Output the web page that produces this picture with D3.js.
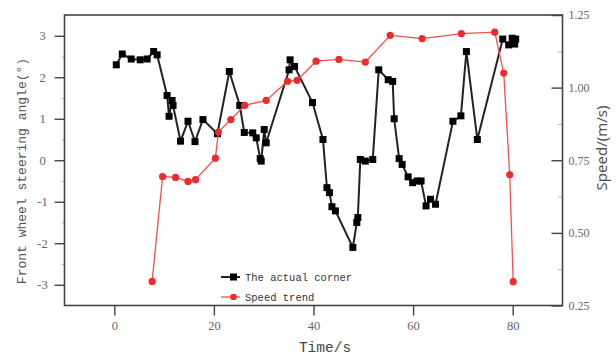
<!DOCTYPE html>
<html>
<head>
<meta charset="utf-8">
<script src="https://cdn.jsdelivr.net/npm/d3@7"></script>
<style>
  html, body { margin: 0; padding: 0; background: #fff; }
  svg { display: block; }
</style>
</head>
<body>
<svg id="chart" width="616" height="357"></svg>
<script>
// time (s) and front wheel angle (deg) of the actual corner
const cornerTime = [0.4, 1.6, 3.4, 5.2, 6.6, 7.9, 8.6, 10.6, 11.0, 11.6, 11.8, 13.3, 14.8, 16.2, 17.8, 20.7,
  23.1, 25.2, 26.1, 27.8, 28.5, 29.3, 29.5, 30.1, 30.5, 35.1, 35.3, 36.2, 39.8, 41.9, 42.7, 43.2, 43.7, 44.4,
  47.9, 48.7, 48.9, 49.4, 50.4, 51.9, 53.1, 55.0, 55.9, 56.2, 57.2, 57.8, 59.0, 59.9, 60.8, 61.6, 62.6, 63.5,
  64.5, 68.0, 69.6, 70.7, 72.9, 78.0, 79.2, 79.9, 80.6, 80.4];
const cornerAngle = [2.30, 2.56, 2.44, 2.42, 2.44, 2.62, 2.54, 1.56, 1.06, 1.44, 1.32, 0.46, 0.94, 0.45, 0.98, 0.64,
  2.14, 1.32, 0.67, 0.66, 0.54, 0.04, -0.02, 0.74, 0.42, 2.18, 2.42, 2.26, 1.39, 0.50, -0.66, -0.78, -1.12, -1.22,
  -2.10, -1.50, -1.38, 0.02, -0.02, 0.02, 2.18, 1.94, 1.90, 1.00, 0.04, -0.10, -0.40, -0.54, -0.50, -0.50, -1.10, -0.94,
  -1.06, 0.94, 1.07, 2.62, 0.50, 2.92, 2.78, 2.94, 2.92, 2.80];

// time (s) and speed (m/s) of the speed trend
const speedTime = [7.6, 9.7, 12.3, 14.8, 16.3, 20.3, 20.9, 23.4, 26.2, 30.5, 34.8, 36.7, 40.5, 45.1, 50.4,
  55.4, 61.8, 69.7, 76.4, 78.2, 79.4, 80.1];
const speedValue = [0.333, 0.694, 0.691, 0.677, 0.683, 0.757, 0.847, 0.890, 0.939, 0.956, 1.022, 1.025, 1.091,
  1.097, 1.088, 1.180, 1.169, 1.186, 1.191, 1.050, 0.700, 0.332];

const xTicks = [0, 20, 40, 60, 80];
const angleTicks = [-3, -2, -1, 0, 1, 2, 3];
const angleMinor = [-2.5, -1.5, -0.5, 0.5, 1.5, 2.5];
const speedTicks = [0.25, 0.50, 0.75, 1.00, 1.25];
const speedMinor = [0.375, 0.625, 0.875, 1.125];

const corner = cornerTime.map((t, i) => ({ t, v: cornerAngle[i] }));
const speed = speedTime.map((t, i) => ({ t, v: speedValue[i] }));

const width = 616, height = 357;
const margin = { top: 15, right: 53.5, bottom: 51.5, left: 64.5 };
const innerWidth = width - margin.left - margin.right;
const innerHeight = height - margin.top - margin.bottom;

const svg = d3.select('#chart');
const g = svg.append('g').attr('transform', `translate(${margin.left},${margin.top})`);

// Scales
const x = d3.scaleLinear().domain([-10, 90]).range([0, innerWidth]);
const yLeft = d3.scaleLinear().domain([-3.5, 3.5]).range([innerHeight, 0]);
const yRight = d3.scaleLinear().domain([0.25, 1.25]).range([innerHeight, 0]);

const axisColor = '#444';
const labelColor = '#666';
const tickFont = '"Liberation Serif", serif';
const monoFont = '"Liberation Mono", "DejaVu Sans Mono", monospace';

// Minor ticks (no labels)
g.append('g')
  .call(d3.axisLeft(yLeft).tickValues(angleMinor).tickSize(3))
  .call(s => s.select('.domain').remove())
  .call(s => s.selectAll('text').remove())
  .call(s => s.selectAll('line').attr('stroke', '#bbb'));
g.append('g')
  .attr('transform', `translate(${innerWidth},0)`)
  .call(d3.axisRight(yRight).tickValues(speedMinor).tickSize(-5))
  .call(s => s.select('.domain').remove())
  .call(s => s.selectAll('text').remove())
  .call(s => s.selectAll('line').attr('stroke', '#bbb'));

// Left axis
g.append('g')
  .call(d3.axisLeft(yLeft).tickValues(angleTicks).tickSize(10).tickPadding(0).tickFormat(d3.format('d')))
  .call(s => s.select('.domain').remove())
  .call(s => s.selectAll('line').attr('stroke', axisColor).attr('stroke-width', 1.4))
  .call(s => s.selectAll('text')
    .attr('x', -22).attr('text-anchor', 'middle')
    .attr('fill', labelColor).attr('font-family', tickFont).attr('font-size', 12.5)
    .text(d => d < 0 ? '-' + Math.abs(d) : d));

// Right axis
g.append('g')
  .attr('transform', `translate(${innerWidth},0)`)
  .call(d3.axisRight(yRight).tickValues(speedTicks).tickSize(-11).tickPadding(0).tickFormat(d3.format('.2f')))
  .call(s => s.select('.domain').remove())
  .call(s => s.selectAll('line').attr('stroke', axisColor).attr('stroke-width', 1.4))
  .call(s => s.selectAll('text')
    .attr('x', 6)
    .attr('fill', labelColor).attr('font-family', tickFont).attr('font-size', 12));

// Bottom axis
g.append('g')
  .attr('transform', `translate(0,${innerHeight})`)
  .call(d3.axisBottom(x).tickValues(xTicks).tickSize(10).tickPadding(6))
  .call(s => s.select('.domain').remove())
  .call(s => s.selectAll('line').attr('stroke', axisColor).attr('stroke-width', 1.4))
  .call(s => s.selectAll('text')
    .attr('fill', labelColor).attr('font-family', tickFont).attr('font-size', 12.5));

// Frame
g.append('rect')
  .attr('width', innerWidth)
  .attr('height', innerHeight)
  .attr('fill', 'none')
  .attr('stroke', axisColor)
  .attr('stroke-width', 1.6);

// Actual corner line
const cornerLine = d3.line().x(d => x(d.t)).y(d => yLeft(d.v));
g.append('path')
  .datum(corner)
  .attr('fill', 'none')
  .attr('stroke', '#222')
  .attr('stroke-width', 2)
  .attr('d', cornerLine);

g.selectAll('.sq')
  .data(corner)
  .join('rect')
  .attr('class', 'sq')
  .attr('x', d => x(d.t) - 3.5)
  .attr('y', d => yLeft(d.v) - 3.5)
  .attr('width', 7)
  .attr('height', 7)
  .attr('fill', '#000');

// Speed trend line
const speedLine = d3.line().x(d => x(d.t)).y(d => yRight(d.v));
g.append('path')
  .datum(speed)
  .attr('fill', 'none')
  .attr('stroke', '#f25050')
  .attr('stroke-width', 1.3)
  .attr('d', speedLine);

g.selectAll('.dot')
  .data(speed)
  .join('circle')
  .attr('class', 'dot')
  .attr('cx', d => x(d.t))
  .attr('cy', d => yRight(d.v))
  .attr('r', 3.6)
  .attr('fill', '#ee2a2a');

// Legend
const legend = g.append('g').attr('transform', `translate(${221 - margin.left},${277 - margin.top})`);
legend.append('line').attr('x1', 0).attr('x2', 19).attr('stroke', '#222').attr('stroke-width', 2);
legend.append('rect').attr('x', 9).attr('y', -3.5).attr('width', 7).attr('height', 7).attr('fill', '#000');
legend.append('text').attr('x', 24).attr('dy', '0.35em')
  .attr('font-family', monoFont).attr('font-size', 10.5).attr('fill', '#333')
  .text('The actual corner');
const leg2 = legend.append('g').attr('transform', 'translate(0,20)');
leg2.append('line').attr('x1', 0).attr('x2', 19).attr('stroke', '#f25050').attr('stroke-width', 1.3);
leg2.append('circle').attr('cx', 12.5).attr('r', 3.3).attr('fill', '#ee2a2a');
leg2.append('text').attr('x', 24).attr('dy', '0.35em')
  .attr('font-family', monoFont).attr('font-size', 10.5).attr('fill', '#333')
  .text('Speed trend');

// Axis titles
svg.append('text')
  .attr('transform', 'translate(26,171) rotate(-90)')
  .attr('text-anchor', 'middle')
  .attr('font-family', monoFont).attr('font-size', 13).attr('fill', '#555')
  .text('Front wheel steering angle(°)');

svg.append('text')
  .attr('x', 325).attr('y', 352)
  .attr('text-anchor', 'middle')
  .attr('font-family', monoFont).attr('font-size', 14.5).attr('fill', '#444')
  .text('Time/s');

svg.append('text')
  .attr('transform', 'translate(607,148) rotate(-90)')
  .attr('text-anchor', 'middle')
  .attr('font-family', '"Noto Sans", sans-serif').attr('font-size', 15).attr('fill', '#555')
  .text('Speed/(m/s)');
</script>
</body>
</html>
